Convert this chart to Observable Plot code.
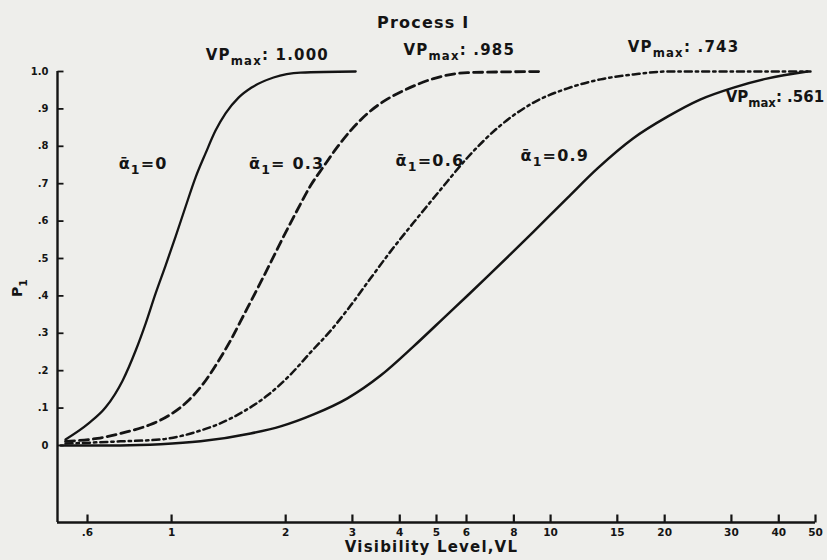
<!DOCTYPE html>
<html>
<head>
<meta charset="utf-8">
<script src="https://cdn.jsdelivr.net/npm/d3@7"></script>
<script src="https://cdn.jsdelivr.net/npm/@observablehq/plot@0.6"></script>
<style>
  html, body { margin: 0; padding: 0; background: #eeeeeb; }
  #wrap { width: 827px; height: 560px; position: relative; overflow: hidden; }
  #title { height: 30px; width: 827px; box-sizing: border-box; padding-left: 377px; padding-top: 15px;
           font-family: "DejaVu Sans", sans-serif; font-weight: bold; font-size: 16px; line-height: 16px; color: #141414; letter-spacing: 1.2px; }
</style>
</head>
<body>
<div id="wrap">
  <div id="title">Process I</div>
  <div id="chart"></div>
</div>
<script>
// ---- data ----
const xTicks = [0.6, 1, 2, 3, 4, 5, 6, 8, 10, 15, 20, 30, 40, 50];
const yTicks = [0, 0.1, 0.2, 0.3, 0.4, 0.5, 0.6, 0.7, 0.8, 0.9, 1.0];
const xDomain = [0.5, 50];
const yDomain = [-0.206, 1.0];

const seriesKeys = ["a0", "a3", "a6", "a9"];

// alpha1 = 0 (solid)
const vlA0 = [0.525, 0.604, 0.670, 0.743, 0.804, 0.854, 0.907, 0.964, 1.025, 1.089, 1.157, 1.229, 1.306, 1.388, 1.502, 1.626, 1.858, 2.189, 3.06];
const pA0  = [0.016, 0.059, 0.102, 0.174, 0.254, 0.326, 0.406, 0.481, 0.559, 0.639, 0.717, 0.781, 0.842, 0.888, 0.930, 0.957, 0.984, 0.997, 1.0];

// alpha1 = 0.3 (dashed)
const vlA3 = [0.525, 0.638, 0.765, 0.880, 0.994, 1.102, 1.214, 1.322, 1.431, 1.549, 1.686, 1.825, 1.975, 2.150, 2.327, 2.518, 2.742, 2.967, 3.290, 3.625, 4.094, 4.913, 6.04, 9.58];
const pA3  = [0.011, 0.019, 0.037, 0.056, 0.083, 0.118, 0.166, 0.222, 0.281, 0.348, 0.420, 0.489, 0.559, 0.631, 0.695, 0.746, 0.799, 0.842, 0.888, 0.920, 0.949, 0.981, 0.997, 1.0];

// alpha1 = 0.6 (dash-dot)
const vlA6 = [0.525, 0.733, 0.935, 1.076, 1.192, 1.322, 1.549, 1.792, 2.061, 2.327, 2.628, 2.967, 3.350, 3.783, 4.350, 5.125, 6.04, 7.38, 9.02, 11.09, 13.55, 16.56, 20.35, 48.5];
const pA6  = [0.005, 0.011, 0.016, 0.027, 0.040, 0.056, 0.091, 0.134, 0.190, 0.249, 0.307, 0.374, 0.447, 0.519, 0.596, 0.684, 0.770, 0.856, 0.917, 0.955, 0.979, 0.992, 1.0, 1.0];

// alpha1 = 0.9 (solid)
const vlA9 = [0.51, 0.733, 0.935, 1.192, 1.616, 1.939, 2.37, 2.91, 3.56, 4.35, 5.34, 6.04, 6.82, 7.83, 9.02, 11.1, 13.3, 16.5, 20.4, 24.8, 30.4, 37.2, 47.6];
const pA9  = [0.0, 0.0, 0.003, 0.011, 0.032, 0.051, 0.083, 0.126, 0.187, 0.265, 0.350, 0.401, 0.452, 0.511, 0.572, 0.663, 0.741, 0.821, 0.880, 0.925, 0.957, 0.981, 1.0];

// curve labels
const alphaLabels = ["ᾱ_{1}=0", "ᾱ_{1}= 0.3", "ᾱ_{1}=0.6", "ᾱ_{1}=0.9"];
const alphaVL = [0.725, 1.60, 3.90, 8.33];
const alphaP  = [0.754, 0.754, 0.762, 0.775];

const vpLabels = ["VP_{max}: 1.000", "VP_{max}: .985", "VP_{max}: .743", "VP_{max}: .561"];
const vpVL = [1.23, 4.09, 15.97, 28.97];
const vpP  = [1.043, 1.056, 1.064, 0.930];

const xLabel = "Visibility Level,VL";
const yLabel = "P_{1}";

// ---- build tables ----
const allVL = [vlA0, vlA3, vlA6, vlA9];
const allP = [pA0, pA3, pA6, pA9];
const series = seriesKeys.map((k, s) => allVL[s].map((v, i) => ({key: k, vl: v, p: allP[s][i]})));
const alphaTable = alphaLabels.map((t, i) => ({t, vl: alphaVL[i], p: alphaP[i]}));
const vpTable = vpLabels.map((t, i) => ({t, vl: vpVL[i], p: vpP[i]}));
const xTickTable = xTicks.map(v => ({v}));
const yTickTable = yTicks.map(v => ({v}));

const fmtX = d => d < 1 ? String(d).replace(/^0/, "") : String(d);
const fmtY = d => d === 0 ? "0" : d === 1 ? "1.0" : d3.format(".1f")(d).replace(/^0/, "");

const W = 827, H = 530, ML = 57, MR = 12, MT = 41, MB = 38;
// inward tick lengths (8px up on x axis, 6px right on y axis) converted to data units
const xTickLen = 8 * (yDomain[1] - yDomain[0]) / (H - MT - MB);
const yTickFactor = Math.pow(xDomain[1] / xDomain[0], 6 / (W - ML - MR));

const ink = "#141414";
const lineStyle = {
  a0: {strokeWidth: 2.3},
  a3: {strokeWidth: 2.8, strokeDasharray: "9,5"},
  a6: {strokeWidth: 2.5, strokeDasharray: "7,4,2.4,4"},
  a9: {strokeWidth: 2.5}
};

const chart = Plot.plot({
  width: W,
  height: H,
  marginLeft: ML,
  marginRight: MR,
  marginTop: MT,
  marginBottom: MB,
  style: {fontFamily: "DejaVu Sans, sans-serif", fontWeight: "bold", fontSize: "10px", color: ink, background: "transparent", overflow: "visible"},
  x: {type: "log", domain: xDomain, axis: null},
  y: {domain: yDomain, axis: null},
  marks: [
    // axis lines
    Plot.ruleX([xDomain[0]], {y1: yDomain[0], y2: yDomain[1], stroke: ink, strokeWidth: 2.4}),
    Plot.ruleY([yDomain[0]], {x1: xDomain[0], x2: xDomain[1], stroke: ink, strokeWidth: 2.4}),
    // inward ticks, as short links
    Plot.link(xTickTable, {x1: "v", x2: "v", y1: () => yDomain[0], y2: () => yDomain[0] + xTickLen, stroke: ink, strokeWidth: 2.2}),
    Plot.link(yTickTable, {y1: "v", y2: "v", x1: () => xDomain[0], x2: () => xDomain[0] * yTickFactor, stroke: ink, strokeWidth: 1.8}),
    // tick labels
    Plot.text(xTicks, {x: d => d, frameAnchor: "bottom", dy: 13, text: fmtX, fontSize: 10.5, fill: ink}),
    Plot.text(yTicks, {y: d => d, frameAnchor: "left", dx: -9, textAnchor: "end", text: fmtY, fontSize: 10, fill: ink}),
    // curves
    ...seriesKeys.map((k, s) => Plot.line(series[s], {x: "vl", y: "p", curve: "monotone-x", stroke: ink, ...lineStyle[k]})),
    // annotations
    Plot.text(alphaTable, {x: "vl", y: "p", text: "t", textAnchor: "start", fontSize: 16, fill: ink}),
    Plot.text(vpTable, {x: "vl", y: "p", text: "t", textAnchor: "start", fontSize: 15, fill: ink}),
    Plot.text([xLabel], {text: d => d, frameAnchor: "bottom", dy: 29, dx: -5, fontSize: 15, fill: ink}),
    Plot.text([yLabel], {text: d => d, frameAnchor: "left", dx: -40, rotate: -90, fontSize: 14, fill: ink})
  ]
});

// subscripts: turn "_{...}" into lowered, smaller tspans; widen lettering of annotations
const spaced = new Set([...alphaLabels, ...vpLabels.slice(0, 3), xLabel]);
function richify(svg) {
  const NS = "http://www.w3.org/2000/svg";
  svg.querySelectorAll("text").forEach(t => {
    const s = t.textContent;
    if (spaced.has(s)) t.setAttribute("letter-spacing", "1.2");
    if (!s.includes("_{")) return;
    const parts = s.split(/(_\{[^}]*\})/).filter(p => p);
    while (t.firstChild) t.removeChild(t.firstChild);
    let prevSub = false;
    for (const p of parts) {
      const ts = document.createElementNS(NS, "tspan");
      if (p.startsWith("_{")) {
        ts.textContent = p.slice(2, -1);
        ts.setAttribute("dy", "5");
        ts.setAttribute("font-size", "0.78em");
        prevSub = true;
      } else {
        ts.textContent = p;
        if (prevSub) ts.setAttribute("dy", "-5");
        prevSub = false;
      }
      t.appendChild(ts);
    }
  });
}
richify(chart);
document.getElementById("chart").appendChild(chart);
</script>
</body>
</html>
